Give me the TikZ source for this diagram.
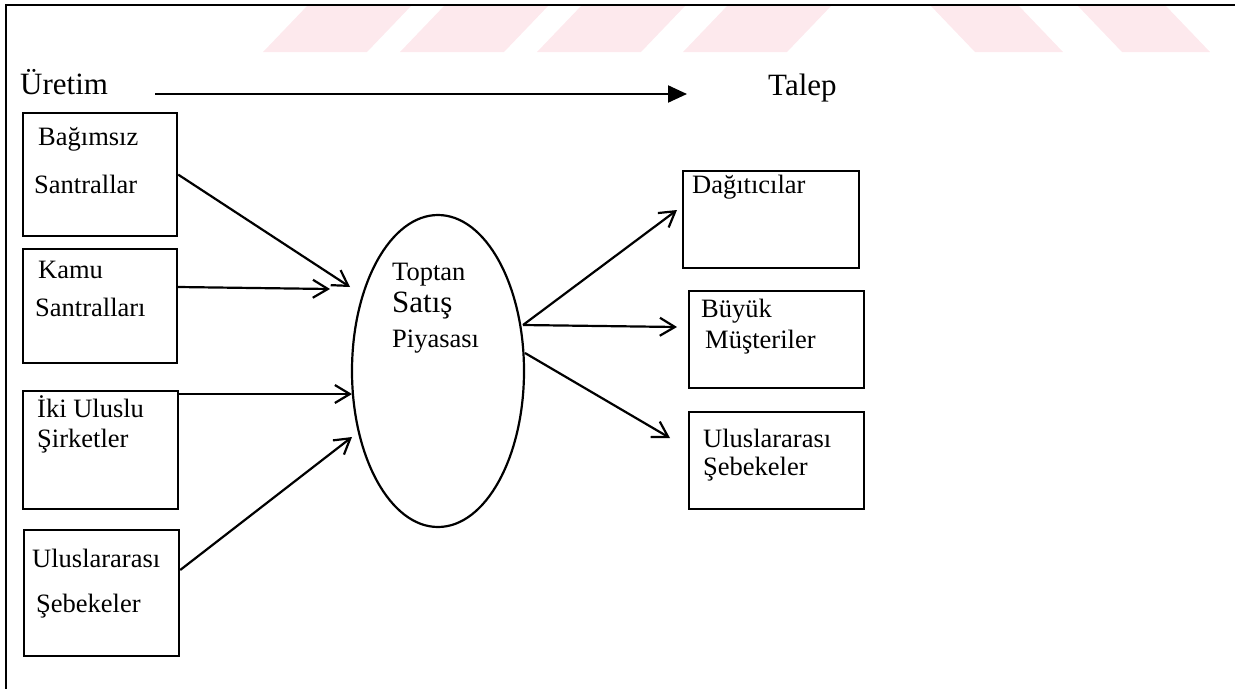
\documentclass[tikz,border=0pt]{standalone}
\usepackage{fontspec}
\setmainfont{Liberation Serif}
\usetikzlibrary{arrows.meta,shapes.geometric,calc}
\definecolor{stripe}{RGB}{253,233,237}
\begin{document}
\begin{tikzpicture}[x=1pt,y=-1pt,
  box/.style={draw,line width=2.2pt,inner sep=0pt,anchor=north west},
  txt/.style={inner sep=0pt,anchor=base west,font=\fontsize{26.5}{30}\selectfont},
  head/.style={inner sep=0pt,anchor=base west,font=\fontsize{31}{34}\selectfont},
  flow/.style={line width=2.2pt,-{Straight Barb[length=15pt,width=18pt,line width=2.2pt]}},
  stripebar/.style={fill=stripe,draw=none}]
\useasboundingbox (0,0) rectangle (1235,689);

% light stripes along the top edge
\foreach \a in {263,400,537,683}
  \fill[stripebar] (\a,52) -- (\a+104,52) -- (\a+149,5) -- (\a+45,5) -- cycle;
\foreach \a in {930,1077}
  \fill[stripebar] (\a,5) -- (\a+88,5) -- (\a+133,52) -- (\a+45,52) -- cycle;

% frame
\draw[line width=2.8pt] (5,5) -- (1235,5);
\draw[line width=2.2pt] (6,5) -- (6,689);

% direction of flow
\node[head] (uretim) at (20,94) {Üretim};
\node[head] (talep) at (768,95) {Talep};
\coordinate (fa) at (155,94);
\coordinate (fb) at (687,94);
\draw[line width=2.2pt,-{Triangle[length=19pt,width=17pt]}] (fa) -- (fb);

% producers
\node[box,minimum width=154pt,minimum height=123pt] (b1) at (22,112) {};
\node[txt] (b1a) at (38,145) {Bağımsız};
\node[txt] (b1b) at (34,193) {Santrallar};

\node[box,minimum width=154pt,minimum height=114pt] (b2) at (22,248) {};
\node[txt] (b2a) at (38,278) {Kamu};
\node[txt] (b2b) at (35,316) {Santralları};

\node[box,minimum width=155pt,minimum height=118pt] (b3) at (22,390) {};
\node[txt] (b3a) at (37,417) {İki Uluslu};
\node[txt] (b3b) at (37,447) {Şirketler};

\node[box,minimum width=155pt,minimum height=126pt] (b4) at (23,529) {};
\node[txt] (b4a) at (32,567) {Uluslararası};
\node[txt] (b4b) at (36,612) {Şebekeler};

% wholesale market
\node[draw,ellipse,line width=2.2pt,minimum width=172pt,minimum height=312pt,inner sep=0pt] (mkt) at (438,371) {};
\node[txt] (m1) at (392,280) {Toptan};
\node[head] (m2) at (392,312) {Satış};
\node[txt] (m3) at (392,347) {Piyasası};

% consumers
\node[box,minimum width=176pt,minimum height=97pt] (r1) at (682,170) {};
\node[txt] (r1a) at (692,193) {Dağıtıcılar};

\node[box,minimum width=175pt,minimum height=97pt] (r2) at (688,290) {};
\node[txt] (r2a) at (701,317) {Büyük};
\node[txt] (r2b) at (705,348) {Müşteriler};

\node[box,minimum width=175pt,minimum height=97pt] (r3) at (688,411) {};
\node[txt] (r3a) at (703,447) {Uluslararası};
\node[txt] (r3b) at (703,475) {Şebekeler};

% arrow end points at the market
\coordinate (e1) at (350,287);
\coordinate (e2) at (330,289);
\coordinate (e3) at (352,394);
\coordinate (e4) at (352,437);
\coordinate (s1) at (523,325);
\coordinate (s3) at (525,353);

\draw[flow] (b1.east) -- (e1);
\draw[flow] ($(b2.north east)+(0,39)$) -- (e2);
\draw[flow] ($(b3.north east)+(0,4)$) -- (e3);
\draw[flow] ($(b4.north east)+(0,41)$) -- (e4);

\draw[flow] (s1) -- ($(r1.north west)+(-5,40)$);
\draw[flow] (s1) -- ($(r2.north west)+(-11,37)$);
\draw[flow] (s3) -- ($(r3.north west)+(-18,27)$);
\end{tikzpicture}
\end{document}
